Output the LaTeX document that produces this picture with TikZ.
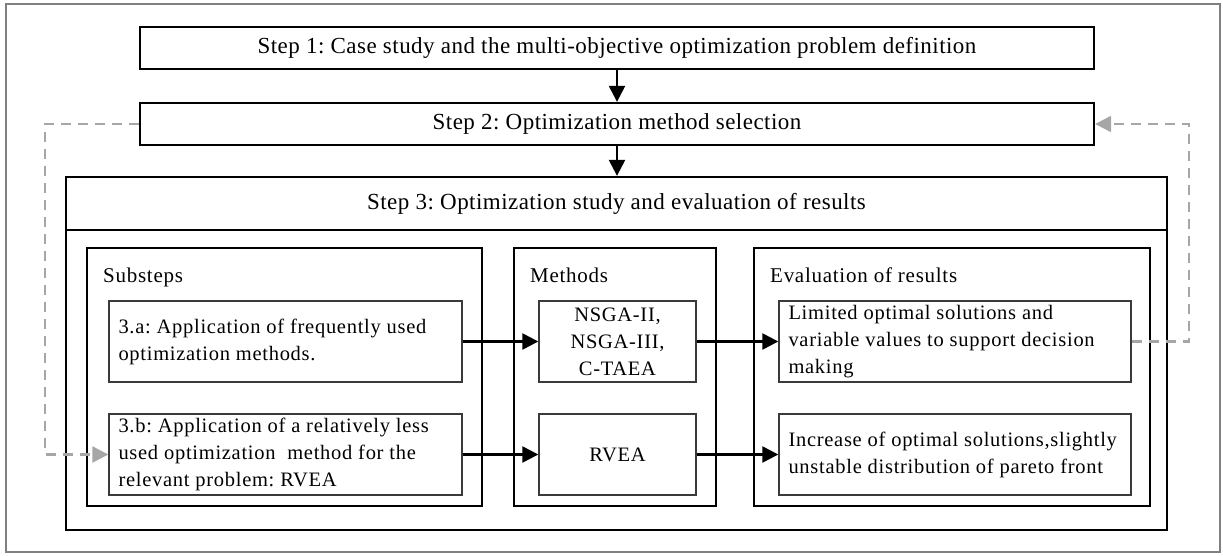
\documentclass[tikz,border=0pt]{standalone}
\usepackage{fontspec}
\setmainfont{Liberation Serif}
\newfontfamily\headfont[LetterSpace=2]{Liberation Serif}
\newfontfamily\bodyfont[LetterSpace=3.5]{Liberation Serif}
\usetikzlibrary{arrows.meta}
\frenchspacing
\definecolor{framegray}{HTML}{808080}
\definecolor{loopgray}{HTML}{A6A6A6}
\definecolor{innerline}{HTML}{3A3A3A}
\tikzset{
  every node/.style={font=\bodyfont\fontsize{20.5}{27}\selectfont},
  stepbox/.style={draw=black, line width=2.3pt, rectangle, inner sep=0pt,
                  font=\headfont\fontsize{23}{27}\selectfont},
  groupbox/.style={draw=black, line width=2.3pt, rectangle, inner sep=0pt},
  itembox/.style={draw=innerline, line width=1.4pt, rectangle, inner xsep=9.5pt, inner ysep=0pt,
                  minimum height=81pt},
  lefttext/.style={align=flush left},
  midtext/.style={align=center},
  flow/.style={line width=2.4pt, -{Triangle[length=16pt,width=16pt]}},
  loopback/.style={draw=loopgray, line width=2.4pt, dash pattern=on 10pt off 7pt,
                   -{Triangle[length=16pt,width=16pt,fill=loopgray]}},
  grouplabel/.style={anchor=base west, inner sep=0pt, font=\bodyfont\fontsize{21}{27}\selectfont},
}
\begin{document}
\begin{tikzpicture}[x=1pt,y=-1pt]
  \useasboundingbox (0,0) rectangle (1223,556);
  % outer frame
  \draw[framegray, line width=1.6pt] (6,4) rectangle (1220,552);

  % main steps
  \node[stepbox, minimum width=954pt, minimum height=42pt] (s1) at (617,48)
    {Step 1: Case study and the multi-objective optimization problem definition};
  \node[stepbox, minimum width=954pt, minimum height=42pt] (s2) at (617,124)
    {Step 2: Optimization method selection};
  \node[stepbox, minimum width=1101pt, minimum height=53pt] (s3) at (616.5,203.5)
    {Step 3: Optimization study and evaluation of results};
  \node[stepbox, minimum width=1101pt, minimum height=300pt] (s3body) at (616.5,380) {};

  % groups inside step 3
  \node[groupbox, minimum width=395pt, minimum height=258pt] (sub) at (284.5,377) {};
  \node[groupbox, minimum width=202pt, minimum height=258pt] (meth) at (615,377) {};
  \node[groupbox, minimum width=396pt, minimum height=258pt] (eval) at (952,377) {};
  \node[grouplabel] (subl) at (103,282) {Substeps};
  \node[grouplabel] (methl) at (530,282) {Methods};
  \node[grouplabel] (evall) at (770,282) {Evaluation of results};

  % substeps
  \node[itembox, lefttext, text width=334pt] (a) at (285.5,341.5)
    {3.a: Application of frequently used\\optimization methods.};
  \node[itembox, lefttext, text width=334pt] (b) at (285.5,454.5)
    {3.b: Application of a relatively less\\used optimization\ \ method for the\\relevant problem: RVEA};

  % methods
  \node[itembox, midtext, text width=138pt] (nsga) at (617.5,341.5)
    {NSGA-II,\\NSGA-III,\\C-TAEA};
  \node[itembox, midtext, text width=138pt] (rvea) at (617.5,454.5) {RVEA};

  % evaluation
  \node[itembox, lefttext, text width=333pt] (lim) at (955,341.5)
    {Limited optimal solutions and\\variable values to support decision\\making};
  \node[itembox, lefttext, text width=333pt] (inc) at (955,454.5)
    {Increase of optimal solutions,slightly\\unstable distribution of pareto front};

  % flow arrows
  \draw[flow] (s1.south) -- (s2.north);
  \draw[flow] (s2.south) -- (s2.south |- s3.north);
  \draw[flow] (a.east) -- (nsga.west);
  \draw[flow] (nsga.east) -- (lim.west);
  \draw[flow] (b.east) -- (rvea.west);
  \draw[flow] (rvea.east) -- (inc.west);

  % feedback loops
  \coordinate (lturn) at (45,124);
  \coordinate (rturn) at (1189,341.5);
  \draw[loopback] (s2.west) -- (lturn) |- (b.west);
  \draw[loopback] (lim.east) -- (rturn) |- (s2.east);
\end{tikzpicture}
\end{document}
